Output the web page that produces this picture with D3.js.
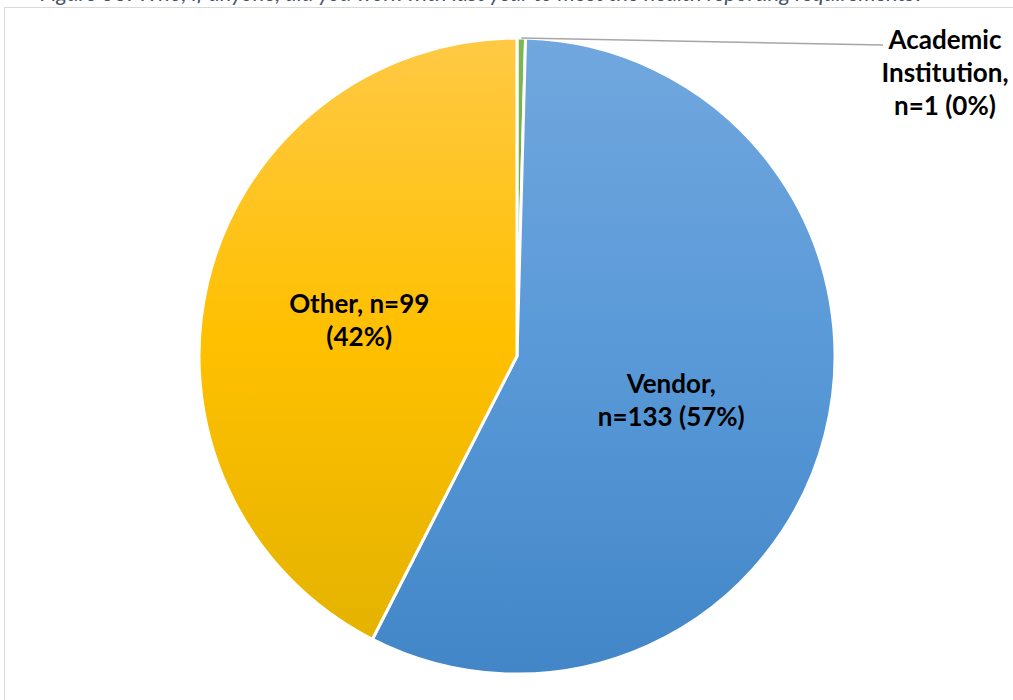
<!DOCTYPE html>
<html>
<head>
<meta charset="utf-8">
<script src="https://cdn.jsdelivr.net/npm/d3@7"></script>
<style>
  html, body { margin: 0; padding: 0; background: #fff; }
  #chart { width: 1013px; height: 700px; overflow: hidden; }
</style>
</head>
<body>
<div id="chart"></div>
<script>
// data, in drawing order clockwise from 12 o'clock
const categories = ['Academic Institution', 'Vendor', 'Other'];
const counts = [1, 133, 99];
const percents = ['0%', '57%', '42%'];

const sliceColors = {
  'Academic Institution': ['#7cb955', '#70ad47', '#5f9a3a'],
  'Vendor': ['#71a7de', '#5999d8', '#4286c7'],
  'Other': ['#ffc945', '#ffc000', '#e4b300']
};

const width = 1013, height = 700;
const cx = 517, cy = 356, radius = 318;

const svg = d3.select('#chart').append('svg')
  .attr('width', width)
  .attr('height', height);

// caption of the figure, mostly above the visible area like in the source
svg.append('text')
  .attr('x', 40)
  .attr('y', 1)
  .attr('fill', '#44546a')
  .style('font-family', 'Lato, "Open Sans", sans-serif')
  .style('font-style', 'italic')
  .style('font-size', '22px')
  .text('Figure 30: Who, if anyone, did you work with last year to meet the health reporting requirements?');

// chart area border
svg.append('rect')
  .attr('x', 4.5)
  .attr('y', 7.5)
  .attr('width', width + 20)
  .attr('height', height + 20)
  .attr('fill', 'none')
  .attr('stroke', '#d9d9d9')
  .attr('stroke-width', 1);

const defs = svg.append('defs');
categories.forEach((c, i) => {
  const g = defs.append('linearGradient')
    .attr('id', 'grad' + i)
    .attr('x1', 0).attr('y1', 0).attr('x2', 0).attr('y2', 1);
  sliceColors[c].forEach((col, j) => {
    g.append('stop').attr('offset', (j * 50) + '%').attr('stop-color', col);
  });
});

const data = categories.map((c, i) => ({ name: c, n: counts[i], pct: percents[i], idx: i }));

const pie = d3.pie().sort(null).value(d => d.n);
const arc = d3.arc().innerRadius(0).outerRadius(radius);
const arcs = pie(data);

const g = svg.append('g').attr('transform', `translate(${cx},${cy})`);

g.selectAll('path.slice')
  .data(arcs)
  .join('path')
  .attr('class', 'slice')
  .attr('d', arc)
  .attr('fill', d => `url(#grad${d.data.idx})`)
  .attr('stroke', '#fff')
  .attr('stroke-width', 3)
  .attr('stroke-linejoin', 'round');

const font = 'Lato, Carlito, Calibri, sans-serif';
const lineH = 33;

function drawLabel(lines, x, y) {
  const t = svg.append('text')
    .attr('text-anchor', 'middle')
    .attr('fill', '#000')
    .style('font-family', font)
    .style('font-weight', '700')
    .style('font-size', '26px');
  lines.forEach((s, i) => {
    t.append('tspan').attr('x', x).attr('y', y + i * lineH).text(s);
  });
}

// inside labels placed along the slice centroids
const labelArc = d3.arc().innerRadius(radius * 0.52).outerRadius(radius * 0.52);
arcs.forEach(a => {
  const d = a.data;
  if (d.name === 'Vendor') {
    const [x, y] = labelArc.centroid(a);
    drawLabel([`${d.name},`, `n=${d.n} (${d.pct})`], cx + x - 6, cy + y - 4);
  } else if (d.name === 'Other') {
    const [x, y] = labelArc.centroid(a);
    drawLabel([`${d.name}, n=${d.n}`, `(${d.pct})`], cx + x + 3, cy + y - 4);
  }
});

// outside label with leader line for the tiny slice
const small = arcs[0];
const mid = (small.startAngle + small.endAngle) / 2;
const px = cx + Math.sin(mid) * radius;
const py = cy - Math.cos(mid) * radius;
svg.append('polyline')
  .attr('points', [[px, py], [883, 45]].map(p => p.join(',')).join(' '))
  .attr('fill', 'none')
  .attr('stroke', '#a6a6a6')
  .attr('stroke-width', 1.5);

drawLabel(['Academic', 'Institution,', `n=${small.data.n} (${small.data.pct})`], 945, 49);
</script>
</body>
</html>
